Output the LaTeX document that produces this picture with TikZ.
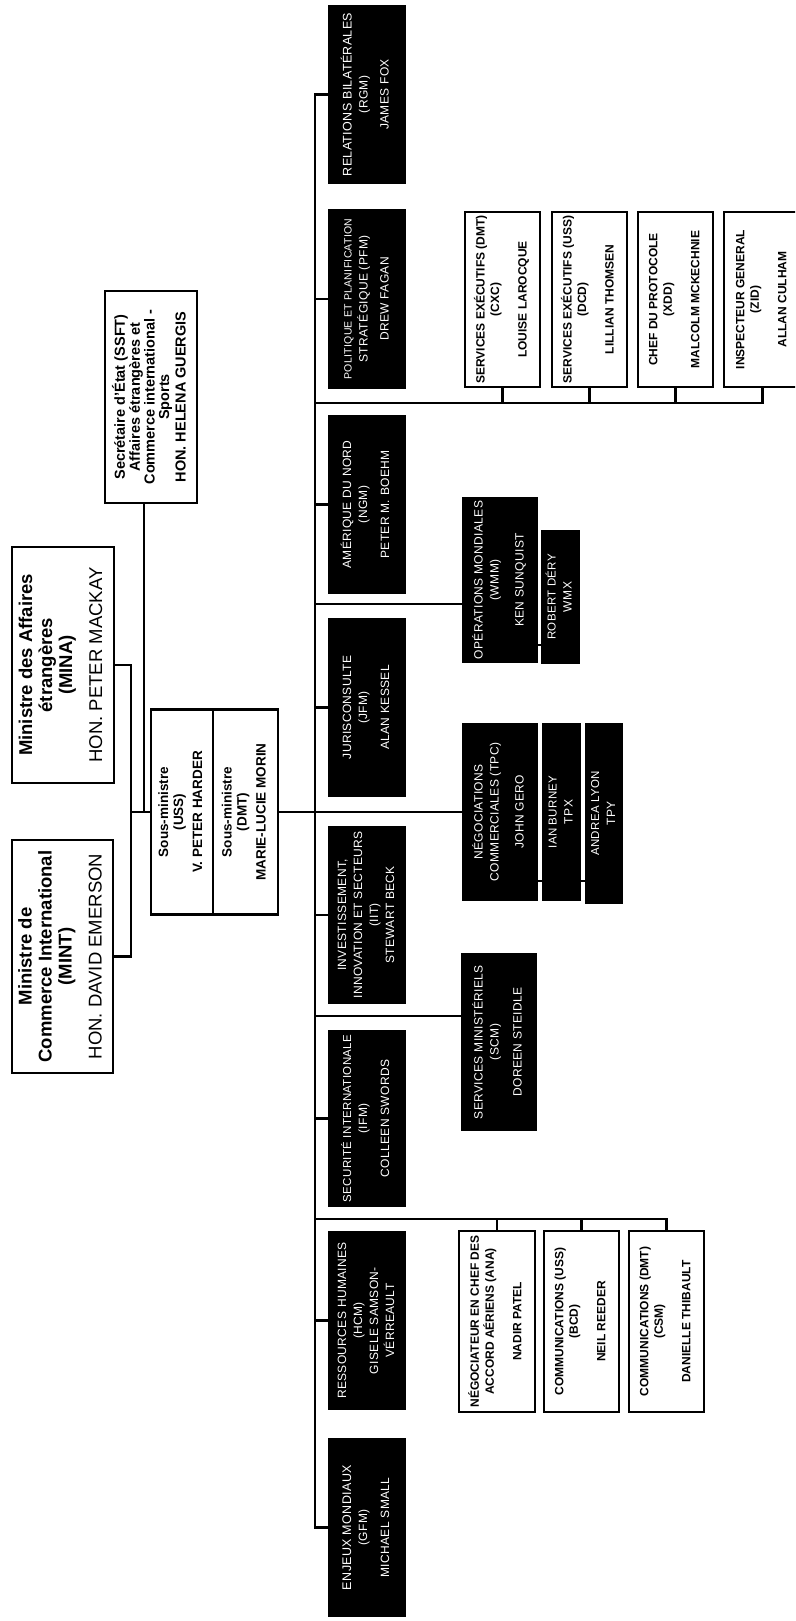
\documentclass[tikz,border=0pt]{standalone}
\usepackage{fontspec}
\setmainfont{Liberation Sans}
\newfontfamily\blkfam[LetterSpace=3]{Liberation Sans}
\newcommand\vtx[1]{\rotatebox{90}{\begin{tabular}{@{}c@{}}#1\end{tabular}}}
\begin{document}
\begin{tikzpicture}[x=1pt,y=-1pt,
  conn/.style={line width=2.6pt,line join=miter},
  blk/.style={fill=black,text=white,inner sep=0pt,font=\blkfam\fontsize{12}{16}\selectfont},
  wbox/.style={draw=black,line width=2.6pt,fill=white,inner sep=0pt,font=\bfseries\fontsize{12}{14.5}\selectfont},
  topbox/.style={draw=black,line width=2.6pt,fill=white,inner sep=0pt,font=\fontsize{18.5}{20}\selectfont},
  sbox/.style={draw=black,line width=2.6pt,fill=white,inner sep=0pt,font=\bfseries\fontsize{13.5}{15}\selectfont}]
\path[use as bounding box,fill=white] (0,0) rectangle (795,1621);
\clip (0,0) rectangle (795,1621);

% ---------- boxes ----------
% column 1 (black)
\node[blk,minimum width=78pt,minimum height=179pt] (rgm) at (367,94.5) {\vtx{\fontsize{12.5}{17}\selectfont RELATIONS BILATÉRALES\\(RGM)\\[5pt]JAMES FOX}};
\node[blk,minimum width=78pt,minimum height=180pt] (pfm) at (367,299) {\vtx{\fontsize{10.5}{17}\selectfont POLITIQUE ET PLANIFICATION\\STRATÉGIQUE (PFM)\\[5pt]DREW FAGAN}};
\node[blk,minimum width=78pt,minimum height=179pt] (ngm) at (367,504.5) {\vtx{AMÉRIQUE DU NORD\\(NGM)\\[6pt]PETER M. BOEHM}};
\node[blk,minimum width=78pt,minimum height=179pt] (jfm) at (367,707.5) {\vtx{JURISCONSULTE\\(JFM)\\[6pt]ALAN KESSEL}};
\node[blk,minimum width=78pt,minimum height=178pt] (iit) at (367,915) {\vtx{\fontsize{12}{15}\selectfont INVESTISSEMENT,\\INNOVATION ET SECTEURS\\(IIT)\\STEWART BECK}};
\node[blk,minimum width=78pt,minimum height=177pt] (ifm) at (367,1118.5) {\vtx{\fontsize{11.5}{16}\selectfont SECURITÉ INTERNATIONALE\\(IFM)\\[6pt]COLLEEN SWORDS}};
\node[blk,minimum width=78pt,minimum height=179pt] (hcm) at (367,1320.5) {\vtx{\fontsize{12}{15.5}\selectfont RESSOURCES HUMAINES\\(HCM)\\GISELE SAMSON-\\VÉRREAULT}};
\node[blk,minimum width=78pt,minimum height=179pt] (gfm) at (367,1527.5) {\vtx{\fontsize{12.5}{17}\selectfont ENJEUX MONDIAUX\\(GFM)\\[6pt]MICHAEL SMALL}};

% column 2 (black)
\node[blk,minimum width=76pt,minimum height=166pt] (wmm) at (500,580) {\vtx{\fontsize{12}{14}\selectfont OPÉRATIONS MONDIALES\\(WMM)\\[9pt]KEN SUNQUIST}};
\node[blk,minimum width=39pt,minimum height=134pt] (wmx) at (560.5,597) {\vtx{\fontsize{11.5}{14}\selectfont ROBERT DÉRY\\WMX}};
\node[blk,minimum width=76pt,minimum height=178pt] (tpc) at (500,812) {\vtx{\fontsize{12}{14}\selectfont NÉGOCIATIONS\\COMMERCIALES (TPC)\\[9pt]JOHN GERO}};
\node[blk,minimum width=39pt,minimum height=178pt] (tpx) at (561.5,812) {\vtx{\fontsize{11.5}{14}\selectfont IAN BURNEY\\TPX}};
\node[blk,minimum width=38pt,minimum height=181pt] (tpy) at (604,813.5) {\vtx{\fontsize{11.5}{14}\selectfont ANDREA LYON\\TPY}};
\node[blk,minimum width=76pt,minimum height=178pt] (scm) at (499,1042) {\vtx{\fontsize{12}{15}\selectfont SERVICES MINISTÉRIELS\\(SCM)\\[7pt]DOREEN STEIDLE}};

% white boxes, top row
\node[wbox,minimum width=75pt,minimum height=175pt] (cxc) at (502.5,299.5) {\vtx{SERVICES EXÉCUTIFS (DMT)\\(CXC)\\[13pt]LOUISE LAROCQUE}};
\node[wbox,minimum width=75pt,minimum height=175pt] (dcd) at (589.5,299.5) {\vtx{SERVICES EXÉCUTIFS (USS)\\(DCD)\\[13pt]LILLIAN THOMSEN}};
\node[wbox,minimum width=75pt,minimum height=175pt] (xdd) at (675.5,299.5) {\vtx{CHEF DU PROTOCOLE\\(XDD)\\[13pt]MALCOLM MCKECHNIE}};
\node[wbox,minimum width=77pt,minimum height=175pt] (zid) at (762.5,299.5) {\vtx{INSPECTEUR GENERAL\\(ZID)\\[13pt]ALLAN CULHAM}};

% white boxes, bottom row
\node[wbox,minimum width=76pt,minimum height=181pt] (ana) at (497,1321.5) {\vtx{NÉGOCIATEUR EN CHEF DES\\ACCORD AÉRIENS (ANA)\\[13pt]NADIR PATEL}};
\node[wbox,minimum width=75pt,minimum height=181pt] (bcd) at (581.5,1321.5) {\vtx{COMMUNICATIONS (USS)\\(BCD)\\[13pt]NEIL REEDER}};
\node[wbox,minimum width=75pt,minimum height=181pt] (csm) at (666.5,1321.5) {\vtx{COMMUNICATIONS (DMT)\\(CSM)\\[13pt]DANIELLE THIBAULT}};

% top-left boxes
\node[topbox,minimum width=102pt,minimum height=236pt] (mina) at (63,665) {\vtx{\bfseries Ministre des Affaires\\\bfseries étrangères\\\bfseries (MINA)\\[10pt]HON. PETER MACKAY}};
\node[topbox,minimum width=101pt,minimum height=233pt] (mint) at (62.5,956.5) {\vtx{\bfseries Ministre de\\\bfseries Commerce International\\\bfseries (MINT)\\[10pt]HON. DAVID EMERSON}};
\node[sbox,minimum width=92pt,minimum height=212pt,font=\bfseries\fontsize{14.5}{14.5}\selectfont] (ssft) at (151,397) {\vtx{Secrétaire d'État (SSFT)\\Affaires étrangères et\\Commerce international -\\Sports\\[2pt]HON. HELENA GUERGIS}};
\node[sbox,minimum width=62pt,minimum height=205pt] (souL) at (182,812) {\vtx{Sous-ministre\\(USS)\\[4pt]V. PETER HARDER}};
\node[sbox,minimum width=65pt,minimum height=205pt] (souR) at (245.5,812) {\vtx{Sous-ministre\\(DMT)\\[4pt]MARIE-LUCIE MORIN}};

% ---------- connectors ----------
\coordinate (sp) at (315,0);
\coordinate (hubA) at (131,812);
\coordinate (hubB) at (144,812);
\coordinate (rowA) at (315,403);
\coordinate (rowB) at (315,1219);
\coordinate (wl) at (315,604);
\coordinate (sl) at (315,1016);
\coordinate (k1) at (0,645);
\coordinate (k2) at (0,881);

\begin{scope}[on background layer/.style={}]
\draw[conn] (rgm.west) -- (sp |- rgm.west) -- (sp |- gfm.west) -- (gfm.west);
\foreach \b in {pfm,ngm,jfm,iit,ifm,hcm} \draw[conn] (sp |- \b.west) -- (\b.west);
\draw[conn] (rowA) -- (rowA -| zid.south) -- (zid.south);
\foreach \b in {cxc,dcd,xdd} \draw[conn] (\b.south) -- (\b.south |- rowA);
\draw[conn] (wl) -- (wl -| wmm.west);
\draw[conn] (wmm.east |- k1) -- (wmx.west |- k1);
\draw[conn] (souR.east) -- (tpc.west);
\draw[conn] (tpc.east |- k2) -- (tpx.west |- k2);
\draw[conn] (tpx.east |- k2) -- (tpy.west |- k2);
\draw[conn] (sl) -- (sl -| scm.west);
\draw[conn] (rowB) -- (rowB -| csm.north) -- (csm.north);
\foreach \b in {ana,bcd} \draw[conn] (\b.north |- rowB) -- (\b.north);
\draw[conn] (mina.east) -| (hubA);
\draw[conn] (mint.east) -| (hubA) -- (souL.west);
\draw[conn] (ssft.south -| hubB) -- (hubB);
\end{scope}
\end{tikzpicture}
\end{document}
